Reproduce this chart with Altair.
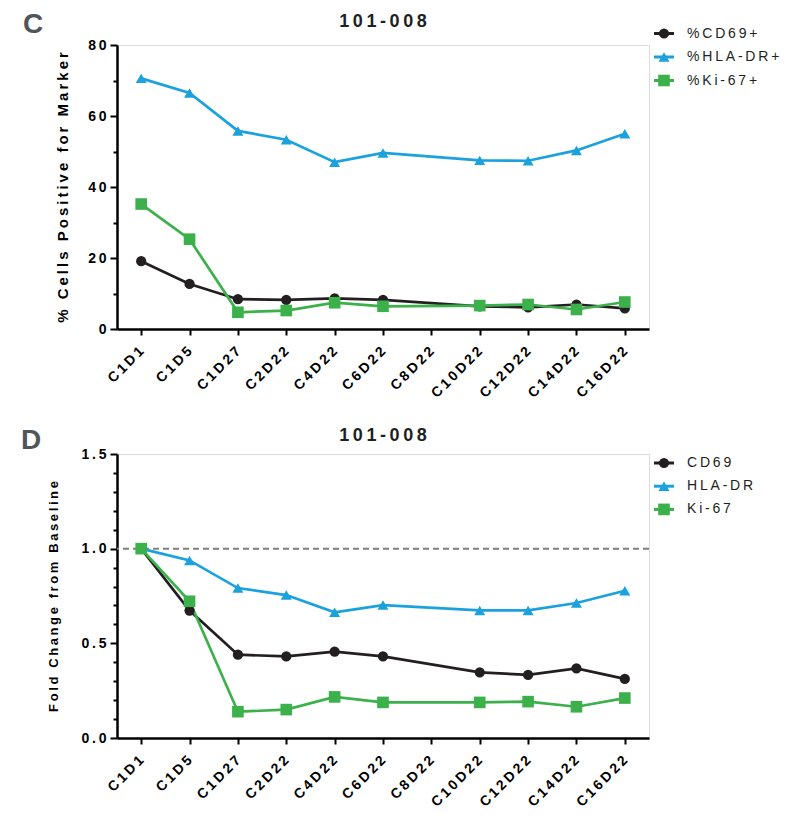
import altair as alt
import pandas as pd

# ---------------- data ----------------
categories = ["C1D1", "C1D5", "C1D27", "C2D22", "C4D22", "C6D22",
              "C8D22", "C10D22", "C12D22", "C14D22", "C16D22"]
series = ["CD69", "HLA-DR", "Ki-67"]

# Panel C: % cells positive for marker (None = no sample)
pct_cd69 = [19.1, 12.7, 8.4, 8.2, 8.6, 8.2, None, 6.4, 6.1, 6.9, 5.8]
pct_hladr = [70.6, 66.5, 55.8, 53.3, 47.0, 49.6, None, 47.5, 47.4, 50.3, 55.0]
pct_ki67 = [35.2, 25.3, 4.7, 5.2, 7.4, 6.4, None, 6.6, 6.9, 5.5, 7.6]

# Panel D: fold change from baseline
fold_cd69 = [1.0, 0.673, 0.44, 0.431, 0.456, 0.431, None, 0.347, 0.333, 0.368, 0.312]
fold_hladr = [1.0, 0.938, 0.792, 0.755, 0.664, 0.702, None, 0.674, 0.674, 0.713, 0.778]
fold_ki67 = [1.0, 0.722, 0.139, 0.150, 0.217, 0.188, None, 0.188, 0.192, 0.165, 0.211]

baseline_ref = [1.0]

panel_title = "101-008"
panel_letters = ["C", "D"]
legend_labels_c = ["%CD69+", "%HLA-DR+", "%Ki-67+"]
legend_labels_d = ["CD69", "HLA-DR", "Ki-67"]
y_title_c = "% Cells Positive for Marker"
y_title_d = "Fold Change from Baseline"

colors = ["#231f20", "#1ba1dd", "#3cb04a"]
shapes = ["circle", "triangle-up", "square"]
marker_sizes = [105, 135, 115]

# ---------------- helpers ----------------
TS = "\u2009"  # thin space used as letter spacing
FONT = "Liberation Sans"
W, H = 532, 284


def spaced(s):
    return TS.join(s)


def long_df(cols):
    rows = []
    for s, vals in zip(series, cols):
        for c, v in zip(categories, vals):
            if v is not None:
                rows.append({"cat": c, "series": s, "value": v})
    return pd.DataFrame(rows)


color_scale = alt.Scale(domain=series, range=colors)
shape_scale = alt.Scale(domain=series, range=shapes)
size_scale = alt.Scale(domain=series, range=marker_sizes)
sx = alt.Scale(domain=[0, W], nice=False, zero=False)
sy = alt.Scale(domain=[0, H], nice=False, zero=False, reverse=True)


def x_enc():
    return alt.X(
        "cat:N", sort=categories,
        scale=alt.Scale(type="point", domain=categories, padding=0.5),
        axis=alt.Axis(
            title=None, labelAngle=-45, labelAlign="right", labelBaseline="middle",
            labelExpr=f"join(split(datum.label, ''), '{TS}')",
            labelFont=FONT, labelFontSize=14, labelFontWeight="bold", labelColor="black",
            labelPadding=14, labelOverlap=False, tickSize=6, tickWidth=2, tickColor="black",
            domainColor="black", domainWidth=2.5, grid=False,
        ),
    )


def y_enc(domain, values, major_test, label_expr, title, title_size, title_pad):
    return alt.Y(
        "value:Q",
        scale=alt.Scale(domain=domain, nice=False, zero=True),
        axis=alt.Axis(
            values=values, labelExpr=label_expr,
            tickSize={"condition": {"test": major_test, "value": 7}, "value": 4},
            tickWidth=2, tickColor="black", domainColor="black", domainWidth=2.5,
            labelFont=FONT, labelFontSize=14, labelFontWeight="bold", labelColor="black",
            labelPadding=4, labelOverlap=False, labelFlush=False, grid=False,
            title=spaced(title), titleFont=FONT, titleFontSize=title_size,
            titleFontWeight="bold", titleColor="black", titlePadding=title_pad,
        ),
    )


def panel(df, y_kwargs, letter, legend_labels, geo, ref_line=False):
    xe = x_enc()
    ye = y_enc(**y_kwargs)
    col = alt.Color("series:N", scale=color_scale, legend=None)
    base = alt.Chart(df)
    lines = base.mark_line(strokeWidth=2.7).encode(x=xe, y=ye, color=col)
    pts = base.mark_point(filled=True, opacity=1).encode(
        x=xe, y=ye, color=col,
        shape=alt.Shape("series:N", scale=shape_scale, legend=None),
        size=alt.Size("series:N", scale=size_scale, legend=None),
    )
    data_layers = [lines, pts]
    if ref_line:
        ref = alt.Chart(pd.DataFrame({"value": baseline_ref})).mark_rule(
            color="#7f7f7f", strokeDash=[6, 4], strokeWidth=2
        ).encode(y=ye)
        data_layers = [ref] + data_layers
    data_layer = alt.layer(*data_layers)

    # annotation layer on pixel-like scales
    ax = lambda f: alt.X(f, scale=sx, axis=None)
    ay = lambda f: alt.Y(f, scale=sy, axis=None)
    t_letter = alt.Chart(pd.DataFrame({"t": [letter]})).transform_calculate(
        px=str(geo["letter_x"]), py=str(geo["letter_y"])
    ).mark_text(font=FONT, fontSize=28, fontWeight="bold", color="#4f5659",
                align="left", baseline="alphabetic").encode(
        x=ax("px:Q"), y=ay("py:Q"), text="t:N")
    t_title = alt.Chart(pd.DataFrame({"t": [spaced(panel_title)]})).transform_calculate(
        px=str(W / 2), py=str(geo["title_y"])
    ).mark_text(font=FONT, fontSize=18, fontWeight="bold", color="#231f20",
                align="center", baseline="alphabetic").encode(
        x=ax("px:Q"), y=ay("py:Q"), text="t:N")
    leg_df = pd.DataFrame({
        "series": series,
        "label": [spaced(l) for l in legend_labels],
        "idx": list(range(len(series))),
    })
    leg = alt.Chart(leg_df).transform_calculate(
        ly=f"{geo['leg_y0']} + datum.idx * {geo['leg_step']}",
        lx0=str(W + 5), lx1=str(W + 25), lm=str(W + 15), lt=str(W + 38),
    )
    leg_rule = leg.mark_rule(strokeWidth=3).encode(
        x=ax("lx0:Q"), x2="lx1:Q", y=ay("ly:Q"), color=col)
    leg_pts = leg.mark_point(filled=True, opacity=1).encode(
        x=ax("lm:Q"), y=ay("ly:Q"), color=col,
        shape=alt.Shape("series:N", scale=shape_scale, legend=None),
        size=alt.Size("series:N", scale=size_scale, legend=None))
    leg_txt = leg.mark_text(font=FONT, fontSize=14, color="#231f20",
                            align="left", baseline="middle").encode(
        x=ax("lt:Q"), y=ay("ly:Q"), text="label:N")
    ann = alt.layer(t_letter, t_title, leg_rule, leg_pts, leg_txt)

    return alt.layer(data_layer, ann).resolve_scale(
        x="independent", y="independent"
    ).properties(width=W, height=H)


pC = panel(
    long_df([pct_cd69, pct_hladr, pct_ki67]),
    dict(domain=[0, 80], values=list(range(0, 81, 10)),
         major_test="datum.value % 20 === 0",
         label_expr=f"datum.value % 20 === 0 ? join(split(datum.label, ''), '{TS}') : ''",
         title=y_title_c, title_size=15, title_pad=17),
    panel_letters[0], legend_labels_c,
    dict(letter_x=-94, letter_y=-12.5, title_y=-18.5, leg_y0=-11.5, leg_step=23.5),
)

pD = panel(
    long_df([fold_cd69, fold_hladr, fold_ki67]),
    dict(domain=[0, 1.5], values=[round(i * 0.1, 1) for i in range(16)],
         major_test="round(datum.value * 10) % 5 === 0",
         label_expr=(f"round(datum.value * 10) % 5 === 0 ? "
                     f"join(split(format(datum.value, '.1f'), ''), '{TS}') : ''"),
         title=y_title_d, title_size=13, title_pad=20),
    panel_letters[1], legend_labels_d,
    dict(letter_x=-96, letter_y=-5.5, title_y=-13.5, leg_y0=9, leg_step=23.2),
    ref_line=True,
)

chart = alt.vconcat(pC, pD, spacing=25).properties(
    padding={"left": 12, "top": 2, "right": 5, "bottom": 5}
).configure_view(stroke=None).configure(font=FONT)

chart.save("out.html", embed_options={"renderer": "svg", "actions": False})
